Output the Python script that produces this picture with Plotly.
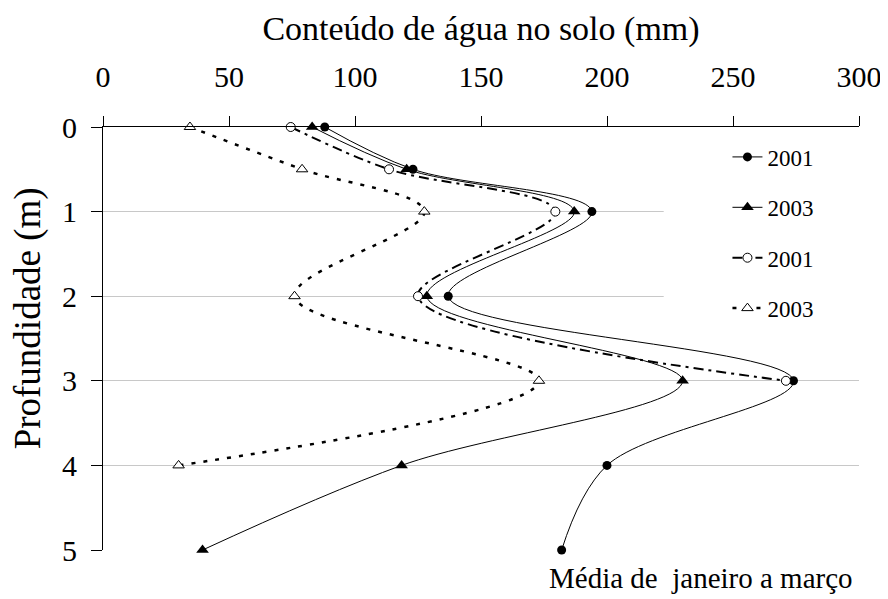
import plotly.graph_objects as go

# Depths (m)
depth_full = [0, 0.5, 1, 2, 3, 4, 5]
depth_open_circle = [0, 0.5, 1, 2, 3]
depth_open_tri = [0, 0.5, 1, 2, 3, 4]

# Soil water content (mm)
agua_2001_cheio = [88, 123, 194, 137, 274, 200, 182]
agua_2003_cheio = [83, 120.5, 187, 128.5, 230, 118.5, 39.5]
agua_2001_vazio = [74.5, 113.5, 179.5, 125, 271]
agua_2003_vazio = [34.5, 79, 127.5, 76, 173, 30]

legend_names = ["2001", "2003", "2001", "2003"]
x_ticks = [0, 50, 100, 150, 200, 250, 300]
y_ticks = [0, 1, 2, 3, 4, 5]
grid_depths = [1, 2, 3, 4]

FONT = "Liberation Serif"

fig = go.Figure()

fig.add_trace(go.Scatter(
    x=agua_2001_cheio, y=depth_full, name=legend_names[0], legendgroup="a",
    mode="lines+markers", line=dict(color="black", width=1, shape="spline"),
    marker=dict(symbol="circle", size=9, color="black"), cliponaxis=False,
))
fig.add_trace(go.Scatter(
    x=agua_2003_cheio, y=depth_full, name=legend_names[1], legendgroup="b",
    mode="lines+markers", line=dict(color="black", width=1, shape="spline"),
    marker=dict(symbol="triangle-up", size=11, color="black"), cliponaxis=False,
))
fig.add_trace(go.Scatter(
    x=agua_2001_vazio, y=depth_open_circle, name=legend_names[2], legendgroup="c",
    mode="lines+markers",
    line=dict(color="black", width=2, shape="spline", dash="10px,5px,3px,5px"),
    marker=dict(symbol="circle", size=9, color="white", line=dict(color="black", width=1)),
    cliponaxis=False,
))
fig.add_trace(go.Scatter(
    x=agua_2003_vazio, y=depth_open_tri, name=legend_names[3], legendgroup="d",
    mode="lines+markers",
    line=dict(color="black", width=2.5, shape="spline", dash="4px,8px"),
    marker=dict(symbol="triangle-up", size=10, color="white", line=dict(color="black", width=1)),
    cliponaxis=False,
))

# white mask behind the legend (hides gridlines there, below traces)
fig.add_shape(type="rect", xref="x", yref="y", x0=222.5, x1=300, y0=0.5, y1=2.5,
              fillcolor="white", line=dict(width=0), layer="between")

fig.update_layout(
    width=888, height=599,
    margin=dict(l=95, r=37, t=119, b=57),
    paper_bgcolor="white", plot_bgcolor="white",
    font=dict(family=FONT, color="black"),
    showlegend=True,
    legend=dict(
        x=0.826, xanchor="left", y=0.98, yanchor="top",
        font=dict(family=FONT, size=23, color="black"),
        bgcolor="rgba(0,0,0,0)", tracegroupgap=17.5, traceorder="grouped",
    ),
    xaxis=dict(
        side="top", range=[0, 300], tickvals=x_ticks, automargin=False,
        showline=True, linecolor="black", linewidth=1,
        ticks="outside", ticklen=10, tickcolor="black",
        showgrid=False, zeroline=False,
        tickfont=dict(family=FONT, size=30),
        ticklabelstandoff=17,
        title=dict(text="Conteúdo de água no solo (mm)", font=dict(family=FONT, size=34), standoff=9),
    ),
    yaxis=dict(
        range=[5, 0], tickvals=y_ticks, automargin=False,
        showline=True, linecolor="black", linewidth=1,
        ticks="outside", ticklen=11, tickcolor="black",
        showgrid=False, zeroline=False,
        tickfont=dict(family=FONT, size=30),
        ticklabelstandoff=8,
        minor=dict(tickvals=grid_depths, showgrid=True, gridcolor="#c8c8c8", gridwidth=1, ticks=""),
    ),
    annotations=[
        dict(text="Profundidade (m)", textangle=-90, xref="paper", yref="paper",
             x=-0.099, y=0.548, xanchor="center", yanchor="middle", showarrow=False,
             font=dict(family=FONT, size=37, color="black")),
        dict(text="Média de\u00a0 janeiro a março", xref="paper", yref="paper",
             x=0.995, y=-0.066, xanchor="right", yanchor="middle", showarrow=False,
             font=dict(family=FONT, size=29, color="black")),
    ],
)

fig.write_html("out.html")
